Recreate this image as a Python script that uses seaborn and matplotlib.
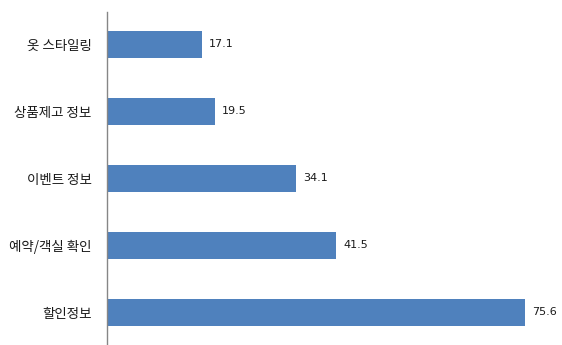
import matplotlib
matplotlib.use("Agg")
import matplotlib.pyplot as plt
import seaborn as sns
import pandas as pd

categories = ["옷 스타일링", "상품제고 정보", "이벤트 정보", "예약/객실 확인", "할인정보"]
values = [17.1, 19.5, 34.1, 41.5, 75.6]

sns.set_theme(style="white")
plt.rcParams['font.family'] = ['Noto Sans CJK KR', 'DejaVu Sans']

df = pd.DataFrame({"category": categories, "value": values})

fig = plt.figure(figsize=(5.62, 3.45), dpi=100)
ax = fig.add_axes([107 / 562, 0.0, 1 - 107 / 562, 1 - 12 / 345])
sns.barplot(data=df, x="value", y="category", color="#4F81BD", width=0.4,
            saturation=1, ax=ax, order=categories, linewidth=0)

ax.set_xlim(0, 82.3)
ax.set_ylim(4.49, -0.48)
for s in ["top", "right", "bottom"]:
    ax.spines[s].set_visible(False)
ax.spines["left"].set_color("#868686")
ax.spines["left"].set_linewidth(1.0)
ax.set_xticks([])
ax.set_xlabel("")
ax.set_ylabel("")
ax.tick_params(axis="y", length=0, pad=11, labelsize=9.7, labelcolor="#1a1a1a")

for i, v in enumerate(values):
    ax.text(v + 1.3, i, f"{v}", va="center", ha="left", fontsize=8, color="#1a1a1a",
            family=['DejaVu Sans'])

fig.savefig("out.png", dpi=100)
